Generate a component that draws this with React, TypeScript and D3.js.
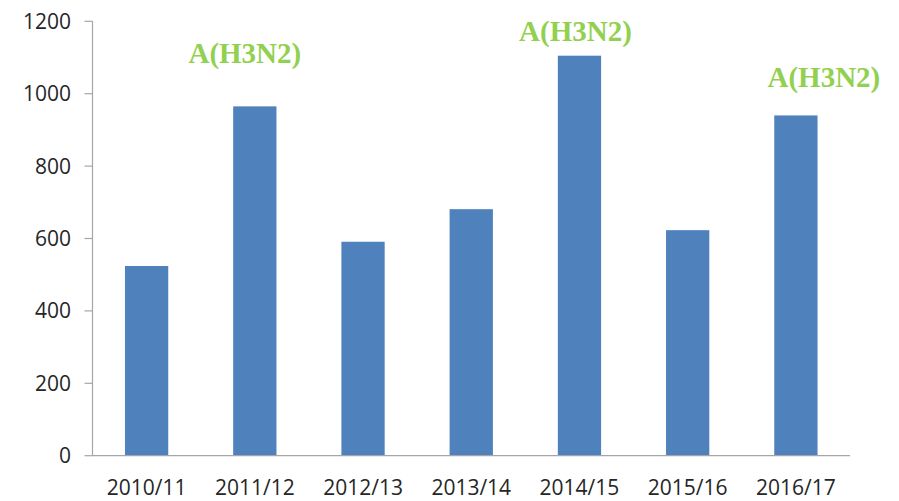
import React from "react";
import * as d3 from "d3";

const categories = ["2010/11", "2011/12", "2012/13", "2013/14", "2014/15", "2015/16", "2016/17"];
const cases = [524, 965, 591, 681, 1105, 623, 940];
const yTicks = [0, 200, 400, 600, 800, 1000, 1200];
const annotationCategories = ["2011/12", "2014/15", "2016/17"];
const annotationText = "A(H3N2)";

// layout of the annotations (offset from bar centre / bar top), not data
const annotationLayout: Record<string, { dx: number; dy: number }> = {
  "2011/12": { dx: -10, dy: -43 },
  "2014/15": { dx: -4, dy: -15 },
  "2016/17": { dx: 28, dy: -28 },
};

const W = 899;
const H = 501;
const left = 92.5;
const right = 850;
const bottom = 455.7;
const top = 21.3;

export default function App() {
  const x = d3.scaleBand<string>().domain(categories).range([left, right]).paddingInner(0.6).paddingOuter(0.3);
  const y = d3.scaleLinear().domain([0, 1200]).range([bottom, top]);
  const axisColor = "#a6a6a6";
  const tickFont = "'Open Sans', sans-serif";

  return (
    <svg width={W} height={H} style={{ position: "absolute", left: 0, top: 0, background: "#fff" }}>
      {categories.map((c, i) => (
        <rect key={c} x={x(c)} y={y(cases[i])} width={x.bandwidth()} height={y(0) - y(cases[i])} fill="#4F81BD" />
      ))}
      <line x1={left} x2={left} y1={top} y2={bottom} stroke={axisColor} strokeWidth={1.2} />
      <line x1={left} x2={right} y1={bottom} y2={bottom} stroke={axisColor} strokeWidth={1.2} />
      {yTicks.map((t) => (
        <g key={t}>
          <line x1={left - 8} x2={left} y1={y(t)} y2={y(t)} stroke={axisColor} strokeWidth={1.2} />
          <text x={71} y={y(t)} dy="0.36em" textAnchor="end" fontFamily={tickFont} fontSize={21} fill="#262626">
            {t}
          </text>
        </g>
      ))}
      {categories.map((c) => (
        <text key={c} x={(x(c) as number) + x.bandwidth() / 2} y={495} textAnchor="middle" fontFamily={tickFont} fontSize={21} fill="#262626">
          {c}
        </text>
      ))}
      {annotationCategories.map((c) => {
        const i = categories.indexOf(c);
        const l = annotationLayout[c];
        return (
          <text
            key={c}
            x={(x(c) as number) + x.bandwidth() / 2 + l.dx}
            y={y(cases[i]) + l.dy}
            textAnchor="middle"
            fontFamily="'Liberation Serif', serif"
            fontWeight="bold"
            fontSize={29}
            fill="#92D050"
          >
            {annotationText}
          </text>
        );
      })}
    </svg>
  );
}
